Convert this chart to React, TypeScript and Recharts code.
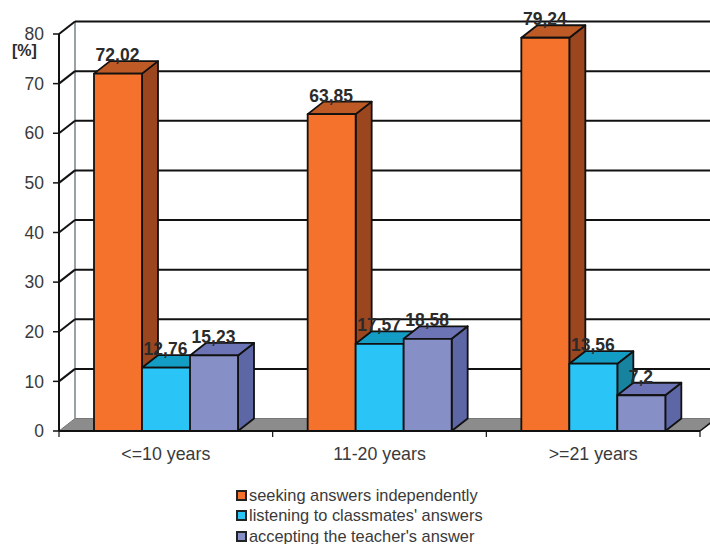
import React from 'react';
import {
  BarChart,
  Bar,
  XAxis,
  YAxis,
  Legend,
  LabelList,
  ReferenceLine,
} from 'recharts';

const categories = ['<=10 years', '11-20 years', '>=21 years'];
const seeking = [72.02, 63.85, 79.24];
const listening = [12.76, 17.57, 13.56];
const accepting = [15.23, 18.58, 7.2];
const yTicks = [0, 10, 20, 30, 40, 50, 60, 70, 80];

const data = categories.map((name, i) => ({
  name,
  seeking: seeking[i],
  listening: listening[i],
  accepting: accepting[i],
}));

const FONT = '"Liberation Sans", Arial, sans-serif';
const TEXT = '#3a3a3a';
const INK = '#111';
// oblique offset of the fake 3D depth
const DX = 16;
const DY = 12.5;
const PLOT_WIDTH = 641;

// bar with a front, top and right face
const box = (front: string, top: string, side: string) => (props: any) => {
  const { x, y, width, height } = props;
  const r = x + width;
  const b = y + height;
  return (
    <g stroke={INK} strokeWidth={1.8} strokeLinejoin="round">
      <polygon
        points={`${r},${y} ${r + DX},${y - DY} ${r + DX},${b - DY} ${r},${b}`}
        fill={side}
      />
      <polygon
        points={`${x},${y} ${x + DX},${y - DY} ${r + DX},${y - DY} ${r},${y}`}
        fill={top}
      />
      <rect x={x} y={y} width={width} height={height} fill={front} />
    </g>
  );
};

// wall gridline: runs back along the side wall, then across the back wall
const GridStep = (props: any) => {
  const { x1, x2, y1 } = props;
  return (
    <g fill="none" stroke={INK} strokeWidth={2}>
      <line x1={x1} y1={y1} x2={x1 + DX} y2={y1 - DY} />
      <line x1={x1 + DX} y1={y1 - DY} x2={x2 + DX} y2={y1 - DY} />
    </g>
  );
};

const Floor = (props: any) => {
  const { x1, x2, y1 } = props;
  const back = y1 - DY;
  return (
    <g>
      <line x1={x1 + DX} y1={back} x2={x1 + DX} y2={back - 397.5} stroke="#9aa1a5" strokeWidth={2} />
      <polygon
        points={`${x1},${y1} ${x1 + DX},${back} ${x2 + DX},${back} ${x2},${y1}`}
        fill="#8c8c8c"
        stroke="#777"
        strokeWidth={1}
      />
      <line x1={x2} y1={y1} x2={x2 + DX} y2={back} stroke={INK} strokeWidth={1.5} />
    </g>
  );
};

// category label, with the tick marks on the band edges
const CategoryTick = (props: any) => {
  const { x, y, payload, index } = props;
  const step = PLOT_WIDTH / categories.length;
  const left = x - step / 2;
  return (
    <g>
      <line x1={left} y1={431} x2={left} y2={437} stroke={INK} strokeWidth={1.2} />
      {index === categories.length - 1 && (
        <line x1={left + step} y1={431} x2={left + step} y2={437} stroke={INK} strokeWidth={1.2} />
      )}
      <text x={x} y={y + 21} textAnchor="middle" fontFamily={FONT} fontSize={17.8} fill={TEXT}>
        {payload.value}
      </text>
    </g>
  );
};

const ValueLabel = (props: any) => {
  const { x, y, width, value } = props;
  return (
    <text
      x={x + width / 2 - 0.5}
      y={y - 12.5}
      textAnchor="middle"
      fontFamily={FONT}
      fontSize={17.5}
      fontWeight="bold"
      fill="#2b2b2b"
    >
      {String(value).replace('.', ',')}
    </text>
  );
};

const LegendList = (props: any) => (
  <div style={{ fontFamily: FONT, fontSize: 16.4, color: TEXT }}>
    {props.payload.map((entry: any) => (
      <div key={entry.value} style={{ display: 'flex', alignItems: 'center', height: 20.5 }}>
        <span
          style={{
            width: 7,
            height: 7,
            marginRight: 2,
            background: entry.color,
            border: '2px solid #222',
            flex: 'none',
          }}
        />
        {entry.value}
      </div>
    ))}
  </div>
);

export default function App() {
  return (
    <div style={{ position: 'absolute', left: 0, top: 0 }}>
      <BarChart
        width={710}
        height={544}
        data={data}
        margin={{ top: 34, right: 10, bottom: 73, left: 0 }}
        barSize={48}
        barGap={0}
      >
        <XAxis
          dataKey="name"
          height={40}
          interval={0}
          tickLine={false}
          tick={CategoryTick}
          axisLine={{ stroke: INK, strokeWidth: 2 }}
        />
        <YAxis
          width={59}
          domain={[0, 80]}
          ticks={yTicks}
          interval={0}
          tickSize={6}
          tickMargin={9}
          axisLine={{ stroke: INK, strokeWidth: 2 }}
          tickLine={{ stroke: INK, strokeWidth: 1.5 }}
          tick={{ fontFamily: FONT, fontSize: 17.5, fill: TEXT }}
          label={{
            value: '[%]',
            position: 'insideTopLeft',
            dx: 7,
            dy: 6,
            fontFamily: FONT,
            fontSize: 16,
            fontWeight: 'bold',
            fill: '#2b2b2b',
          }}
        />
        <ReferenceLine y={0} shape={Floor} zIndex={-100} />
        {yTicks.slice(1).map((v) => (
          <ReferenceLine key={v} y={v} shape={GridStep} zIndex={-100} />
        ))}
        <Legend
          layout="vertical"
          align="center"
          verticalAlign="middle"
          itemSorter={null}
          content={LegendList}
          wrapperStyle={{ left: 236, top: 485, bottom: 'auto', width: 300 }}
        />
        <Bar
          dataKey="seeking"
          name="seeking answers independently"
          fill="#f4722b"
          shape={box('#f4722b', '#bd5a26', '#9c4620')}
          isAnimationActive={false}
        >
          <LabelList dataKey="seeking" content={ValueLabel} />
        </Bar>
        <Bar
          dataKey="listening"
          name="listening to classmates' answers"
          fill="#2bc4f6"
          shape={box('#2bc4f6', '#149dc4', '#17839f')}
          isAnimationActive={false}
        >
          <LabelList dataKey="listening" content={ValueLabel} />
        </Bar>
        <Bar
          dataKey="accepting"
          name="accepting the teacher's answer"
          fill="#8790c6"
          shape={box('#8790c6', '#6c74b5', '#5e67a6')}
          isAnimationActive={false}
        >
          <LabelList dataKey="accepting" content={ValueLabel} />
        </Bar>
      </BarChart>
    </div>
  );
}
